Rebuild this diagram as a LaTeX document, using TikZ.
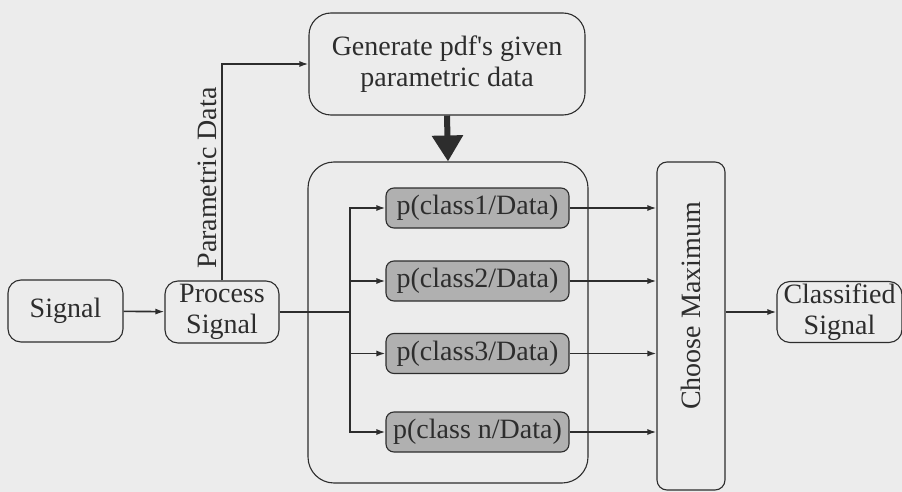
\documentclass[tikz,border=0pt]{standalone}
\usepackage{fontspec}
\setmainfont{Liberation Serif}
\usetikzlibrary{arrows.meta}
\definecolor{bg}{RGB}{236,236,236}
\definecolor{ink}{RGB}{45,45,45}
\definecolor{cfill}{RGB}{176,176,176}
\begin{document}
\begin{tikzpicture}[x=1pt,y=1pt,
  every node/.style={font=\fontsize{28}{31}\selectfont, text=ink},
  box/.style={draw=ink, line width=1.1pt, rounded corners=13pt, align=center, inner sep=0pt},
  cbox/.style={box, fill=cfill, rounded corners=8pt, minimum width=183, minimum height=40},
  conn/.style={draw=ink, line width=1.6pt},
  arr/.style={conn, -{Latex[length=9pt,width=6pt]}},
  bigarr/.style={draw=ink, line width=6pt, -{Triangle[length=26pt,width=30pt]}}]
\fill[bg] (0,0) rectangle (902,-492);
\useasboundingbox (0,0) rectangle (902,-492);

\node[box, minimum width=115, minimum height=62] (sig) at (65.5,-311) {Signal};
\node[box, minimum width=114, minimum height=62] (proc) at (222,-312) {Process\\Signal};
\node[box, rounded corners=22pt, minimum width=276, minimum height=102] (gen) at (447,-64) {Generate pdf\textquotesingle s given\\parametric data};
\node[box, rounded corners=26pt, minimum width=280, minimum height=321] (big) at (448,-322.5) {};
\node[cbox] (c1) at (477.5,-208) {p(class1/Data)};
\node[cbox] (c2) at (477.5,-281) {p(class2/Data)};
\node[cbox] (c3) at (477.5,-353.5) {p(class3/Data)};
\node[cbox] (c4) at (477.5,-432) {p(class n/Data)};
\node[box, rounded corners=10pt, minimum width=68, minimum height=328] (cm) at (691,-326) {};
\node[rotate=90] (cmt) at (691,-306) {Choose Maximum};
\node[box, minimum width=125, minimum height=61] (cls) at (839.5,-312) {Classified\\Signal};
\node[rotate=90] (pd) at (207,-178) {Parametric Data};

\coordinate (br) at (350,-312);
\draw[arr] (sig) -- (proc);
\draw[conn] (proc.east) -- (br);
\draw[arr] (br) |- (c1.west);
\draw[arr] (br) |- (c2.west);
\draw[arr] (br) |- (c3.west);
\draw[arr] (br) |- (c4.west);
\draw[arr] (c1.east) -- (c1.east -| cm.west);
\draw[arr] (c2.east) -- (c2.east -| cm.west);
\draw[arr] (c3.east) -- (c3.east -| cm.west);
\draw[arr] (c4.east) -- (c4.east -| cm.west);
\draw[arr] (cm.east |- cls.west) -- (cls.west);
\draw[arr] (proc.north) |- (gen.west);
\draw[bigarr] (gen.south) -- (big.north);
\end{tikzpicture}
\end{document}
